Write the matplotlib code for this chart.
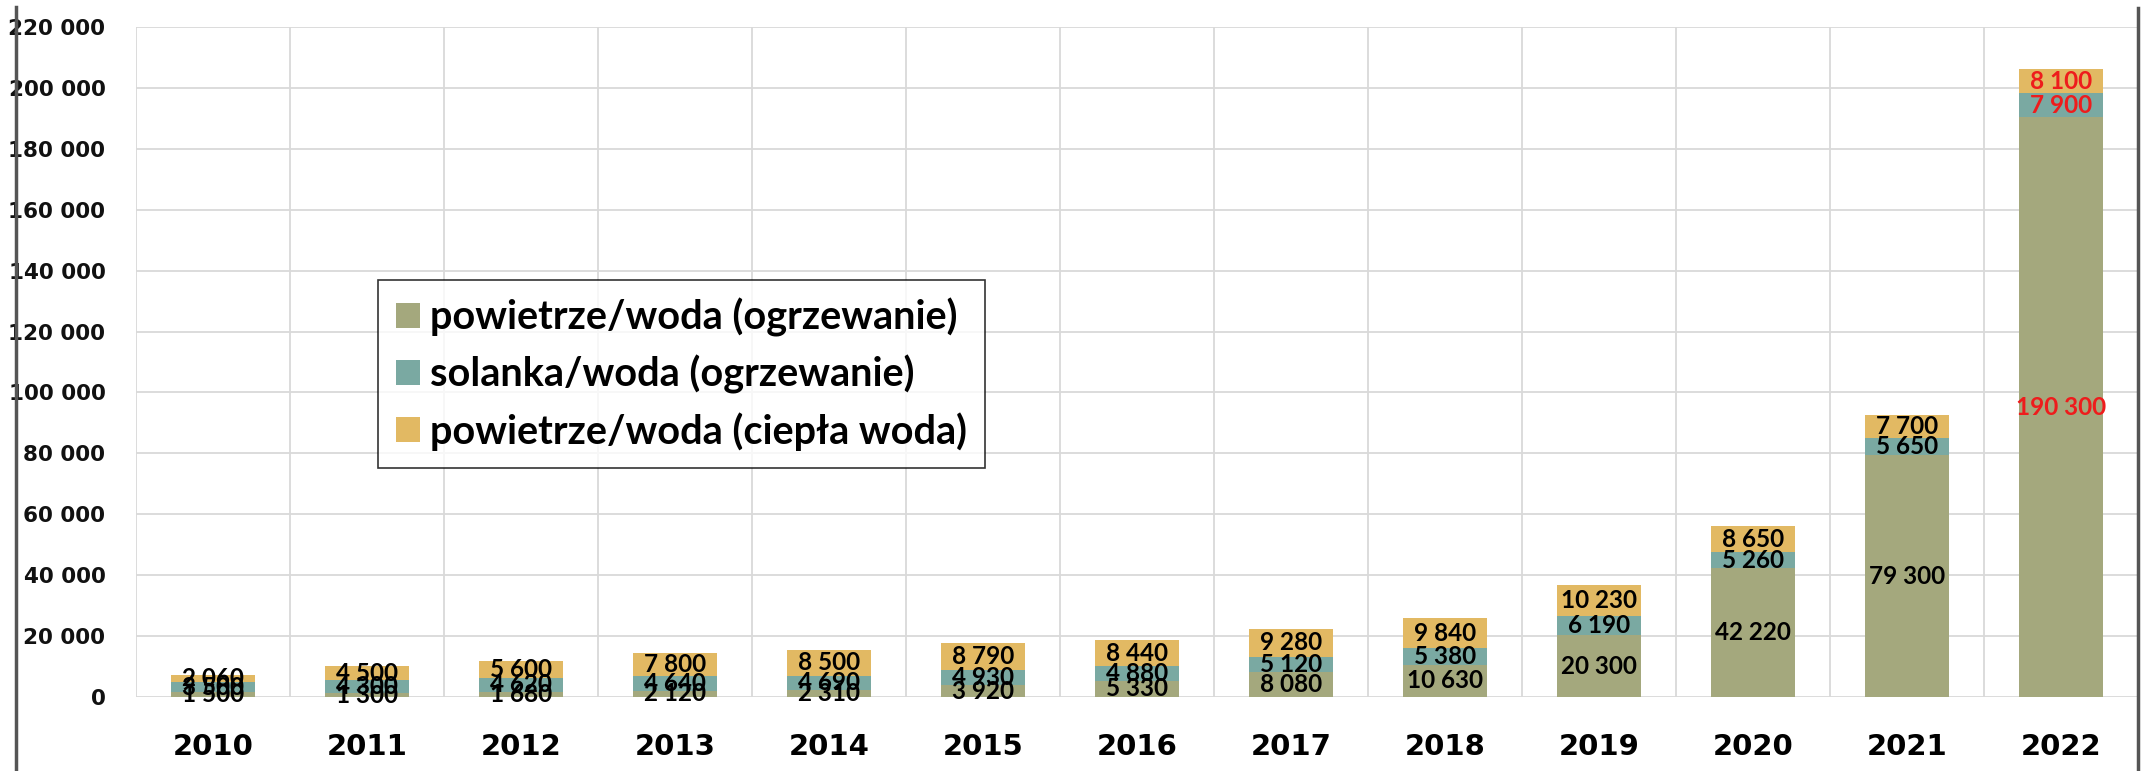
import matplotlib
matplotlib.use("Agg")
import matplotlib.pyplot as plt
from matplotlib.lines import Line2D
import numpy as np

# data
years = ['2010', '2011', '2012', '2013', '2014', '2015', '2016',
         '2017', '2018', '2019', '2020', '2021', '2022']
air_heating = [1500, 1300, 1680, 2120, 2310, 3920, 5330,
               8080, 10630, 20300, 42220, 79300, 190300]
brine_heating = [3500, 4300, 4620, 4640, 4690, 4930, 4880,
                 5120, 5380, 6190, 5260, 5650, 7900]
air_hot_water = [2060, 4500, 5600, 7800, 8500, 8790, 8440,
                 9280, 9840, 10230, 8650, 7700, 8100]
series_names = ['powietrze/woda (ogrzewanie)',
                'solanka/woda (ogrzewanie)',
                'powietrze/woda (ciepła woda)']
y_ticks = list(range(0, 220001, 20000))

colors = ['#a4a87d', '#7aa9a2', '#e2b963']


def fmt(v):
    return f"{v:,}".replace(',', ' ')


fig = plt.figure(figsize=(21.41, 7.71), dpi=100)
ax = fig.add_axes([136 / 2141, 1 - 697 / 771, 2002 / 2141, 670 / 771])

x = np.arange(len(years))
bottom = np.zeros(len(years))
series = [air_heating, brine_heating, air_hot_water]
for vals, name, col in zip(series, series_names, colors):
    vals = np.array(vals, dtype=float)
    ax.bar(x, vals, width=0.55, bottom=bottom, color=col, label=name, zorder=3)
    for i, v in enumerate(vals):
        c = '#ee1c1c' if years[i] == '2022' else 'black'
        ax.text(x[i], bottom[i] + v / 2, fmt(int(v)), ha='center', va='center',
                fontsize=17.5, fontweight='bold', color=c, family='Lato', zorder=4)
    bottom += vals

ax.set_xlim(-0.5, len(years) - 0.5)
ax.set_ylim(0, 220000)
ax.set_yticks(y_ticks)
ax.set_yticklabels([fmt(t) for t in y_ticks], fontsize=15.5, fontweight='bold',
                   color='#111111', family='DejaVu Sans')
ax.set_xticks(x)
ax.set_xticklabels(years, fontsize=21, fontweight='bold', family='DejaVu Sans')
ax.set_xticks(np.arange(len(years) + 1) - 0.5, minor=True)
ax.tick_params(axis='y', length=0, pad=22)
ax.tick_params(axis='x', which='both', length=0, pad=26)
ax.grid(axis='y', color='#d9d9d9', linewidth=1.3, zorder=0)
ax.grid(axis='x', which='minor', color='#d9d9d9', linewidth=1.3, zorder=0)
for s in ax.spines.values():
    s.set_visible(False)

leg = ax.legend(loc='upper left', bbox_to_anchor=(0.121, 0.622), borderaxespad=0,
                frameon=True, fancybox=False, edgecolor='black',
                prop={'family': 'Lato', 'weight': 'bold', 'size': 28.5},
                handlelength=0.6, handleheight=0.6, handletextpad=0.25,
                labelspacing=0.45, borderpad=0.45)
leg.get_frame().set_linewidth(1.2)

# outer frame lines of the original slide
fig.add_artist(Line2D([16 / 2141, 16 / 2141], [0, 1 - 7 / 771],
                      transform=fig.transFigure, color='#555555', linewidth=2.5))
fig.add_artist(Line2D([2138 / 2141, 2138 / 2141], [0, 1 - 8 / 771],
                      transform=fig.transFigure, color='#555555', linewidth=2.5))

fig.savefig('out.png', dpi=100)
